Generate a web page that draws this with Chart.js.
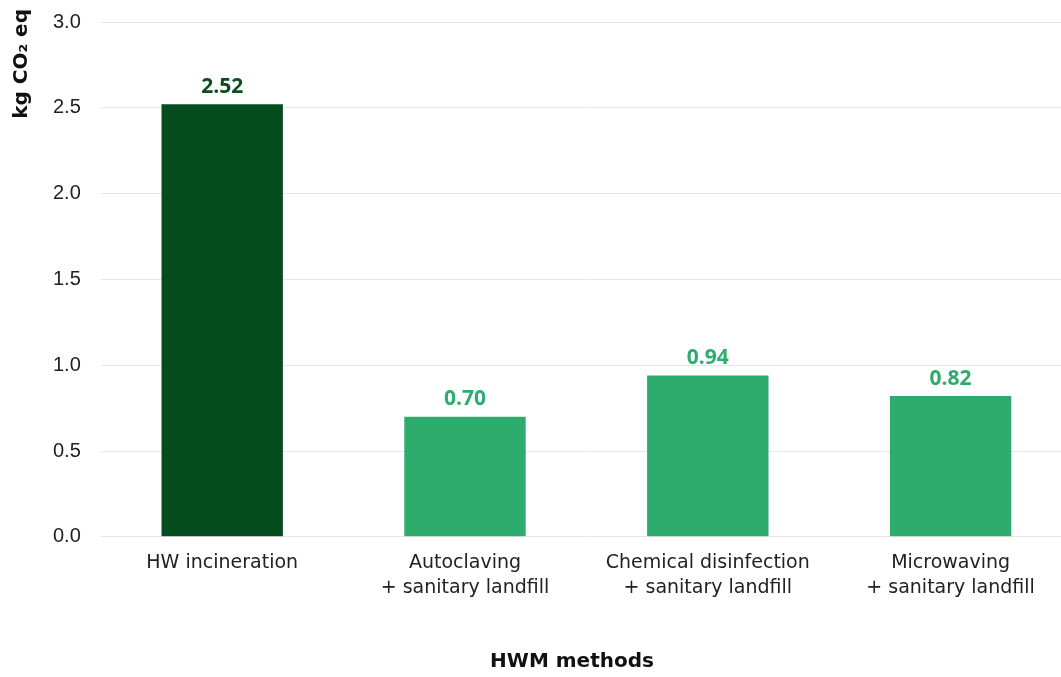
<!DOCTYPE html>
<html>
<head>
<meta charset="utf-8">
<script src="https://cdn.jsdelivr.net/npm/chart.js@4/dist/chart.umd.min.js"></script>
<style>
    html, body { margin: 0; padding: 0; background: #fff; overflow: hidden; }
    #wrap { position: relative; width: 1072px; height: 677px; }
</style>
</head>
<body>
<div id="wrap"><canvas id="hwm-chart"></canvas></div>
<script>
    "use strict";

    // data
    var methods = [
        ["HW incineration"],
        ["Autoclaving", "+ sanitary landfill"],
        ["Chemical disinfection", "+ sanitary landfill"],
        ["Microwaving", "+ sanitary landfill"]
    ];
    var emissions = [2.52, 0.70, 0.94, 0.82];
    var yTicks = [0, 0.5, 1.0, 1.5, 2.0, 2.5, 3.0];
    var yTitle = "kg CO₂ eq";
    var xTitle = "HWM methods";

    var barColors = ["#054d1e", "#2eac6d", "#2eac6d", "#2eac6d"];
    var labelColors = ["#0b4d1e", "#2eac6d", "#2eac6d", "#2eac6d"];

    // value labels above the bars + both axis titles
    var barLabels = {
        id: "barLabels",
        afterDatasetsDraw: function (chart) {
            var ctx = chart.ctx;
            var meta = chart.getDatasetMeta(0);
            ctx.save();
            ctx.font = "bold 21px 'Open Sans', sans-serif";
            ctx.textAlign = "center";
            ctx.textBaseline = "bottom";
            meta.data.forEach(function (bar, i) {
                ctx.fillStyle = labelColors[i];
                ctx.fillText(emissions[i].toFixed(2), bar.x, bar.y - 7);
            });
            ctx.restore();

            // y title sits at the top, not centred
            ctx.save();
            ctx.translate(22, 9);
            ctx.rotate(-Math.PI / 2);
            ctx.font = "bold 20px 'DejaVu Sans', sans-serif";
            ctx.fillStyle = "#111";
            ctx.textAlign = "right";
            ctx.textBaseline = "middle";
            ctx.fillText(yTitle, 0, 0);
            ctx.restore();

            // x title, centred on the visible page
            ctx.save();
            ctx.font = "bold 20px 'DejaVu Sans', sans-serif";
            ctx.fillStyle = "#111";
            ctx.textAlign = "center";
            ctx.textBaseline = "middle";
            ctx.fillText(xTitle, 572, 662);
            ctx.restore();
        }
    };

    var ctx = document.getElementById("hwm-chart").getContext("2d");
    var myChart = new Chart(ctx, {
        type: "bar",
        data: {
            labels: methods,
            datasets: [{
                data: emissions,
                backgroundColor: barColors,
                barPercentage: 0.5,
                categoryPercentage: 1.0
            }]
        },
        options: {
            responsive: true,
            maintainAspectRatio: false,
            animation: false,
            layout: { padding: { top: 0, left: 33, right: 0, bottom: 70 } },
            plugins: {
                legend: { display: false },
                tooltip: { enabled: false }
            },
            scales: {
                x: {
                    grid: { display: false },
                    border: { display: false },
                    ticks: {
                        color: "#222",
                        font: { family: "'DejaVu Sans', sans-serif", size: 19, lineHeight: 1.32 },
                        padding: 6,
                        maxRotation: 0
                    }
                },
                y: {
                    min: 0,
                    max: 3,
                    afterBuildTicks: function (axis) {
                        axis.ticks = yTicks.map(function (v) { return { value: v }; });
                    },
                    grid: { color: "#e6e6e6", drawTicks: false, lineWidth: 1 },
                    border: { display: false },
                    ticks: {
                        color: "#222",
                        // small lineHeight keeps the top tick from pushing the plot down
                        font: { family: "'Liberation Sans', sans-serif", size: 20, lineHeight: 0.2 },
                        padding: 20,
                        callback: function (v) { return Number(v).toFixed(1); }
                    }
                }
            }
        },
        plugins: [barLabels]
    });
</script>
</body>
</html>
